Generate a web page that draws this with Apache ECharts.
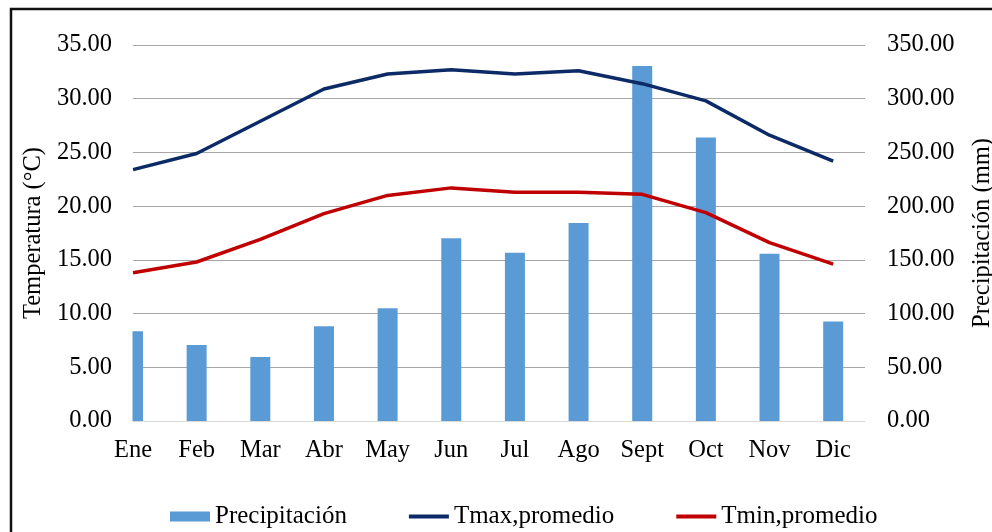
<!DOCTYPE html>
<html>
<head>
<meta charset="utf-8">
<script src="https://cdn.jsdelivr.net/npm/echarts@6/dist/echarts.min.js"></script>
<style>
  html, body { margin: 0; padding: 0; background: #fff; }
  #main { width: 992px; height: 532px; }
</style>
</head>
<body>
<div id="main"></div>
<script>
// datos del climograma
var meses = ['Ene','Feb','Mar','Abr','May','Jun','Jul','Ago','Sept','Oct','Nov','Dic'];
var precipitacion = [83.5, 70.7, 59.6, 88.2, 105.0, 170.2, 156.7, 184.4, 330.5, 264.0, 155.6, 92.6];
var tmax = [23.4, 24.9, 27.9, 30.9, 32.3, 32.7, 32.3, 32.6, 31.4, 29.8, 26.6, 24.2];
var tmin = [13.8, 14.8, 16.9, 19.3, 21.0, 21.7, 21.3, 21.3, 21.1, 19.4, 16.6, 14.6];

var fuente = 'Liberation Serif, Times New Roman, serif';
var tamEje = 24.5;
var tamLeyenda = 25;

// pares [indice, valor] para el eje x numerico
function pares(arr) {
    return arr.map(function (v, i) { return [i, v]; });
}

var myChart = echarts.init(document.getElementById('main'));

myChart.setOption({
    animation: false,
    textStyle: { fontFamily: fuente, color: '#000' },
    graphic: [
        {
            // tapa la mitad izquierda de la barra de enero (el area de trazado empieza en Ene)
            type: 'rect',
            shape: { x: 114, y: 40, width: 18.5, height: 381 },
            style: { fill: '#fff' },
            z: 50
        },
        {
            type: 'rect',
            shape: { x: 11, y: 9, width: 1100, height: 700 },
            style: { fill: 'none', stroke: '#111', lineWidth: 2.5 },
            z: 100
        }
    ],
    grid: {
        left: 133,
        right: 127,
        top: 45,
        bottom: 111,
        containLabel: false,
        outerBoundsMode: 'none'
    },
    legend: {
        left: 165,
        top: 499,
        itemWidth: 40,
        itemHeight: 10,
        itemGap: 60,
        textStyle: { fontSize: tamLeyenda, fontFamily: fuente, color: '#000' },
        data: [
            { name: 'Precipitación', icon: 'rect' },
            { name: 'Tmax,promedio', itemStyle: { opacity: 0 }, lineStyle: { width: 4 } },
            { name: 'Tmin,promedio', itemStyle: { opacity: 0 }, lineStyle: { width: 4 } }
        ]
    },
    xAxis: {
        type: 'value',
        min: 0,
        max: 11.5,
        interval: 1,
        axisLine: { show: true, onZero: false, lineStyle: { color: '#D9D9D9', width: 1 } },
        axisTick: { show: false },
        splitLine: { show: false },
        axisLabel: {
            fontSize: tamEje,
            fontFamily: fuente,
            color: '#000',
            margin: 17,
            showMaxLabel: false,
            formatter: function (v) {
                return Number.isInteger(v) && meses[v] ? meses[v] : '';
            }
        }
    },
    yAxis: [
        {
            type: 'value',
            min: 0,
            max: 35,
            interval: 5,
            name: 'Temperatura (°C)',
            nameLocation: 'middle',
            nameRotate: 90,
            nameGap: 72,
            nameTextStyle: { fontSize: tamEje, fontFamily: fuente, color: '#000' },
            axisLine: { show: false },
            axisTick: { show: false },
            axisLabel: {
                fontSize: tamEje,
                fontFamily: fuente,
                color: '#000',
                margin: 21,
                formatter: function (v) { return v.toFixed(2); }
            },
            splitLine: { show: true, lineStyle: { color: '#A6A6A6', width: 1 } }
        },
        {
            type: 'value',
            min: 0,
            max: 350,
            interval: 50,
            position: 'right',
            name: 'Precipitación (mm)',
            nameLocation: 'middle',
            nameRotate: 90,
            nameGap: 105,
            nameTextStyle: { fontSize: tamEje, fontFamily: fuente, color: '#000' },
            axisLine: { show: false },
            axisTick: { show: false },
            axisLabel: {
                fontSize: tamEje,
                fontFamily: fuente,
                color: '#000',
                margin: 22,
                formatter: function (v) { return v.toFixed(2); }
            },
            splitLine: { show: false }
        }
    ],
    series: [
        {
            name: 'Precipitación',
            type: 'bar',
            yAxisIndex: 1,
            barWidth: 20,
            itemStyle: { color: '#5B9BD5' },
            data: pares(precipitacion)
        },
        {
            name: 'Tmax,promedio',
            type: 'line',
            yAxisIndex: 0,
            symbol: 'none',
            lineStyle: { color: '#0B2A66', width: 3.5 },
            itemStyle: { color: '#0B2A66' },
            data: pares(tmax)
        },
        {
            name: 'Tmin,promedio',
            type: 'line',
            yAxisIndex: 0,
            symbol: 'none',
            lineStyle: { color: '#C00000', width: 3.5 },
            itemStyle: { color: '#C00000' },
            data: pares(tmin)
        }
    ]
});
</script>
</body>
</html>
